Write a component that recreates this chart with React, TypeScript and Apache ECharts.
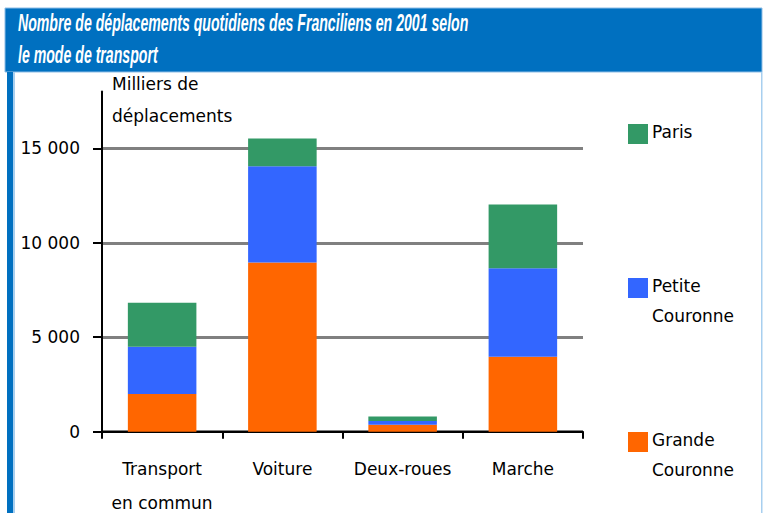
import React, { useEffect, useRef } from 'react';
import * as echarts from 'echarts';

const categories = ['Transport\nen commun', 'Voiture', 'Deux-roues', 'Marche'];
const grandeCouronne = [2000, 8950, 370, 3970];
const petiteCouronne = [2500, 5100, 200, 4680];
const paris = [2320, 1470, 230, 3380];
const yTicks = [0, 5000, 10000, 15000];
const titleLines = [
  'Nombre de déplacements quotidiens des Franciliens en 2001 selon',
  'le mode de transport',
];
const yAxisName = 'Milliers de\ndéplacements';
const legendNames = ['Paris', 'Petite\nCouronne', 'Grande\nCouronne'];

const COLORS = { gc: '#FF6600', pc: '#3366FF', paris: '#339966' };
const FONT = 'DejaVu Sans';

function fmt(v: number): string {
  const s = String(Math.round(v));
  return s.replace(/\B(?=(\d{3})+(?!\d))/g, ' ');
}

export default function App() {
  const ref = useRef<HTMLDivElement>(null);
  useEffect(() => {
    document.body.style.margin = '0';
    const chart = echarts.init(ref.current!, null, { renderer: 'svg' });
    const legendColors = [COLORS.paris, COLORS.pc, COLORS.gc];
    const legendTops = [124, 278, 432];
    const legendGraphics: any[] = [];
    legendNames.forEach((n, i) => {
      legendGraphics.push({
        type: 'rect',
        shape: { x: 628, y: legendTops[i], width: 20, height: 20 },
        style: { fill: legendColors[i] },
      });
      legendGraphics.push({
        type: 'text',
        x: 652,
        y: legendTops[i] - 7,
        style: {
          text: n,
          fontSize: 17,
          fontFamily: FONT,
          fill: '#000',
          lineHeight: 30,
          verticalAlign: 'top',
        },
      });
    });
    const titleStyle = {
      fill: '#fff',
      fontSize: 23,
      fontWeight: 'bold',
      fontStyle: 'italic',
      fontFamily: 'Liberation Sans',
      verticalAlign: 'middle',
    };
    chart.setOption({
      animation: false,
      backgroundColor: '#fff',
      grid: {
        left: 102,
        right: 180,
        top: 91.6,
        bottom: 81.3,
        containLabel: false,
        outerBoundsMode: 'none',
      },
      xAxis: {
        type: 'category',
        data: categories,
        axisLine: { show: true, lineStyle: { color: '#000', width: 2 } },
        axisTick: { show: true, length: 7, lineStyle: { color: '#000', width: 2 } },
        axisLabel: {
          interval: 0,
          margin: 20,
          fontSize: 17,
          fontFamily: FONT,
          color: '#000',
          lineHeight: 34,
        },
      },
      yAxis: {
        type: 'value',
        min: 0,
        max: 18000,
        interval: 5000,
        name: yAxisName,
        nameLocation: 'end',
        nameGap: 23.5,
        nameTextStyle: {
          align: 'left',
          verticalAlign: 'top',
          fontSize: 17,
          fontFamily: FONT,
          color: '#000',
          lineHeight: 32,
          padding: [0, 0, 0, 10],
        },
        axisLine: { show: true, lineStyle: { color: '#000', width: 2 } },
        axisTick: { show: true, length: 9, customValues: yTicks, lineStyle: { color: '#000', width: 2 } },
        axisLabel: {
          customValues: yTicks,
          margin: 22,
          fontSize: 17,
          fontFamily: FONT,
          color: '#000',
          formatter: (v: number) => fmt(v),
        },
        splitLine: { show: true, lineStyle: { color: '#808080', width: 3 } },
      },
      series: [
        {
          name: 'Grande Couronne',
          type: 'bar',
          stack: 'total',
          barWidth: '57%',
          data: grandeCouronne,
          itemStyle: { color: COLORS.gc },
        },
        {
          name: 'Petite Couronne',
          type: 'bar',
          stack: 'total',
          data: petiteCouronne,
          itemStyle: { color: COLORS.pc },
        },
        {
          name: 'Paris',
          type: 'bar',
          stack: 'total',
          data: paris,
          itemStyle: { color: COLORS.paris },
        },
      ],
      graphic: [
        {
          type: 'rect',
          shape: { x: 5, y: 8, width: 757, height: 64 },
          style: { fill: '#0070C0', stroke: '#8DBDE6', lineWidth: 1 },
        },
        { type: 'rect', shape: { x: 7, y: 72, width: 6, height: 441 }, style: { fill: '#0070C0' } },
        { type: 'rect', shape: { x: 13, y: 72, width: 2, height: 441 }, style: { fill: '#A8CFEF' } },
        { type: 'rect', shape: { x: 761, y: 72, width: 1.5, height: 441 }, style: { fill: '#A8CFEF' } },
        {
          type: 'text',
          x: 18,
          y: 23,
          scaleX: 0.614,
          style: { ...titleStyle, text: titleLines[0] },
        },
        {
          type: 'text',
          x: 18,
          y: 55,
          scaleX: 0.614,
          style: { ...titleStyle, text: titleLines[1] },
        },
        ...legendGraphics,
      ],
    });
    return () => chart.dispose();
  }, []);
  return <div ref={ref} style={{ position: 'fixed', left: 0, top: 0, width: 763, height: 513 }} />;
}
